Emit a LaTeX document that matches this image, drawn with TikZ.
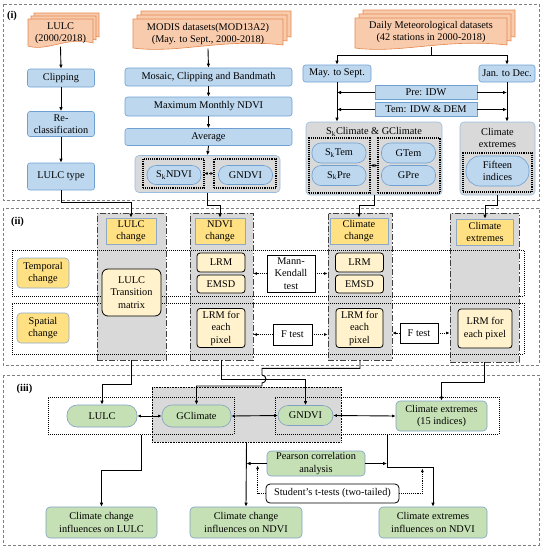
\documentclass[tikz,border=0pt]{standalone}
\usepackage{fontspec}
\setmainfont{Liberation Serif}
\usetikzlibrary{arrows.meta}

\definecolor{bluefill}{HTML}{BDD7EE}
\definecolor{blueline}{HTML}{6FA0D2}
\definecolor{docfill}{HTML}{F8CBAD}
\definecolor{docline}{HTML}{E5874F}
\definecolor{grayfill}{HTML}{D9D9D9}
\definecolor{yelfill}{HTML}{FFE083}
\definecolor{yelline}{HTML}{8EA9C8}
\definecolor{lightyel}{HTML}{FFF2CC}
\definecolor{grnfill}{HTML}{C5E0B4}
\definecolor{grnline}{HTML}{7FA0C4}
\definecolor{secline}{HTML}{7F7F7F}

\tikzset{
  every node/.style={font=\fontsize{10.3}{12.5}\selectfont, align=center, inner sep=1pt},
  sz/.style 2 args={minimum width=#1pt, minimum height=#2pt},
  section/.style={draw=secline, dash pattern=on 3pt off 2pt, line width=0.6pt},
  seclabel/.style={font=\fontsize{10.5}{12}\selectfont\bfseries},
  docpage/.style={fill=docfill, draw=docline, line width=0.6pt},
  doctext/.style={draw=none},
  bluebox/.style={draw=blueline, fill=bluefill, rounded corners=2.5pt, line width=0.6pt},
  flatbox/.style={draw=blueline, fill=bluefill, line width=0.6pt},
  bluepill/.style={draw=blueline, fill=bluefill, rounded corners=9pt, line width=0.6pt},
  grpbox/.style={draw=blueline!70, fill=grayfill, rounded corners=4pt, line width=0.6pt},
  dotbox/.style={draw=black, densely dotted, line width=1.1pt},
  colbox/.style={draw=black!75, fill=grayfill, line width=0.8pt,
                 dash pattern=on 6pt off 2pt on 1.5pt off 2pt},
  rowbox/.style={draw=black, densely dotted, line width=1pt},
  headbox/.style={draw=yelline, fill=yelfill, line width=0.6pt},
  catbox/.style={draw=yelline, fill=yelfill, rounded corners=4pt, line width=0.6pt},
  methbox/.style={draw=black, fill=lightyel, rounded corners=3pt, line width=0.8pt},
  testbox/.style={draw=black, fill=white, line width=0.8pt},
  grnbox/.style={draw=grnline, fill=grnfill, rounded corners=4pt, line width=0.6pt},
  grnpill/.style={draw=grnline, fill=grnfill, rounded corners=10pt, line width=0.6pt},
  arr/.style={-{Latex[length=4pt,width=3.5pt]}, line width=0.9pt},
  dblarr/.style={{Latex[length=3.5pt,width=3pt]}-{Latex[length=3.5pt,width=3pt]}, line width=0.9pt},
  dotarr/.style={-{Latex[length=3.5pt,width=3pt]}, densely dotted, line width=0.9pt},
  dotdbl/.style={{Latex[length=3pt,width=3pt]}-{Latex[length=3pt,width=3pt]}, densely dotted, line width=0.9pt}
}

% stacked data pages: x0, y0 (top left), x1, y1 (bottom right)
\newcommand{\docpage}[4]{%
  \filldraw[docpage] ({#1},{#2}) -- ({#3},{#2}) -- ({#3},{(#4)-3})
    .. controls ({(#1)+0.6*((#3)-(#1))},{(#4)-10}) and ({(#1)+0.3*((#3)-(#1))},{(#4)+6}) .. ({#1},{#4}) -- cycle;}
\newcommand{\docstack}[5]{%
  \docpage{(#1)+2*(#5)}{(#2)-2*(#5)}{(#3)+2*(#5)}{(#4)-2*(#5)}
  \docpage{(#1)+(#5)}{(#2)-(#5)}{(#3)+(#5)}{(#4)-(#5)}
  \docpage{#1}{#2}{#3}{#4}}

\begin{document}
\begin{tikzpicture}[x=1pt,y=-1pt]
\useasboundingbox (0,0) rectangle (544,550);

% Sections
\draw[section] (3,4) rectangle (539,200);
\draw[section] (3,208) rectangle (539,365);
\draw[section] (3,375) rectangle (539,545);
\node[seclabel] (lab1) at (12,16) {(i)};
\node[seclabel] (lab2) at (17.5,222) {(ii)};
\node[seclabel] (lab3) at (24.5,389) {(iii)};

% (i) Data
\docstack{28}{19}{93}{46}{3}
\node[doctext, sz={65}{27}] (lulcdoc) at (60.5,33) {LULC\\(2000/2018)};
\docstack{133}{19}{283}{48}{4}
\node[doctext, sz={150}{29}] (modis) at (208,34) {MODIS datasets(MOD13A2)\\(May. to Sept., 2000-2018)};
\docstack{355}{18}{507}{48}{4}
\node[doctext, sz={152}{30}] (met) at (431,32) {Daily Meteorological datasets\\(42 stations in 2000-2018)};

\node[bluebox, sz={67}{18}] (clip) at (61,78) {Clipping};
\node[bluebox, sz={67}{25}] (reclass) at (61,124) {Re-\\classification};
\node[bluebox, sz={67}{27}] (lulctype) at (61,176.5) {LULC type};

\node[bluebox, sz={167}{18}] (mosaic) at (208.5,77) {Mosaic, Clipping and Bandmath};
\node[bluebox, sz={167}{19}] (maxndvi) at (208.5,106.5) {Maximum Monthly NDVI};
\node[bluebox, sz={167}{17}] (avg) at (208.5,137) {Average};
\node[grpbox, sz={145}{37}] (ndvigrp) at (207.5,174) {};
\node[dotbox, sz={61}{29}] (skndbox) at (173.5,173.5) {};
\node[dotbox, sz={62}{29}] (gndbox) at (245,173.5) {};
\node[bluepill, sz={54}{19}] (sknd) at (174,175) {S\textsubscript{k}NDVI};
\node[bluepill, sz={54}{19}] (gnd) at (245.5,175) {GNDVI};

\node[bluebox, sz={68}{17}] (may) at (337,73.5) {May. to Sept.};
\node[bluebox, sz={56}{17}] (jan) at (507,73.5) {Jan. to Dec.};
\node[flatbox, sz={102}{14}] (pre) at (426,92.5) {Pre: IDW};
\node[flatbox, sz={102}{14}] (tem) at (426,109.5) {Tem: IDW \& DEM};

\node[grpbox, sz={136}{73}] (climgrp) at (374,158.5) {};
\node (climtitle) at (374,132) {S\textsubscript{k}Climate \& GClimate};
\node[dotbox, sz={61}{55}] (climlbox) at (339.5,165.5) {};
\node[dotbox, sz={62}{55}] (climrbox) at (409,165.5) {};
\node[bluepill, sz={54}{20}] (sktem) at (339,153) {S\textsubscript{k}Tem};
\node[bluepill, sz={54}{20}] (skpre) at (339,175.5) {S\textsubscript{k}Pre};
\node[bluepill, sz={54}{20}] (gtem) at (408.5,153) {GTem};
\node[bluepill, sz={54}{20}] (gpre) at (408.5,175.5) {GPre};

\node[grpbox, sz={75}{73}] (extgrp) at (497.5,158.5) {};
\node (exttitle) at (497.5,138) {Climate\\extremes};
\node[dotbox, sz={69}{39}] (extbox) at (497.5,172.5) {};
\node[bluepill, sz={63}{30}, rounded corners=14pt] (fifteen) at (497.5,171) {Fifteen\\indices};

% (i) connections
\draw[arr] (lulcdoc.south) -- (clip.north);
\draw[arr] (clip.south) -- (reclass.north);
\draw[arr] (reclass.south) -- (lulctype.north);
\draw[arr] (modis.south) -- (mosaic.north);
\draw[arr] (mosaic.south) -- (maxndvi.north);
\draw[arr] (maxndvi.south) -- (avg.north);
\draw[arr] (avg.south) -- (ndvigrp.north);
\draw[dotdbl] (skndbox.east) -- (gndbox.west);
\draw[dotdbl] (climlbox.east) -- (climrbox.west);
\draw[arr] (met.south) -- ++(0,8) -| (may.north);
\draw[arr] (met.south) -- ++(0,8) -| (jan.north);
\draw[arr] (may.south) -- (may.south |- climgrp.north);
\draw[arr] (jan.south) -- (jan.south |- extgrp.north);
\foreach \b in {pre,tem}{
  \draw[arr] (\b.west) -- (\b.west -| may.south);
  \draw[arr] (\b.east) -- (\b.east -| jan.south);
}

% (ii) Change analysis
\node[colbox, sz={69}{147}] (lulccol) at (131.5,286.5) {};
\node[colbox, sz={63}{147}] (ndvicol) at (221.5,286.5) {};
\node[colbox, sz={64}{147}] (climcol) at (360,286.5) {};
\node[colbox, sz={69}{149}] (extcol) at (484.5,287.5) {};
\node[rowbox, sz={512}{46}] (temprow) at (268,273) {};
\node[rowbox, sz={512}{51}] (spatrow) at (268,328.5) {};

\node[headbox, sz={50}{26}] (lulcchg) at (131,231) {LULC\\change};
\node[headbox, sz={50}{26}] (ndvichg) at (220,231) {NDVI\\change};
\node[headbox, sz={58}{26}] (climchg) at (359,231) {Climate\\change};
\node[headbox, sz={57}{26}] (extchg) at (485,232) {Climate\\extremes};

\node[catbox, sz={52}{30}] (tempchg) at (43,273) {Temporal\\change};
\node[catbox, sz={52}{30}] (spatchg) at (43,328) {Spatial\\change};

\node[methbox, sz={59}{47}, rounded corners=6pt] (transmat) at (131.5,292.5) {LULC\\Transition\\matrix};
\node[methbox, sz={48}{19}] (lrma) at (221,262.5) {LRM};
\node[methbox, sz={48}{18}] (emsda) at (221,284) {EMSD};
\node[methbox, sz={48}{39}] (pixa) at (221,328) {LRM for\\each\\pixel};
\node[methbox, sz={48}{19}] (lrmb) at (359.5,262.5) {LRM};
\node[methbox, sz={48}{18}] (emsdb) at (359.5,284) {EMSD};
\node[methbox, sz={47}{39}] (pixb) at (359.5,328) {LRM for\\each\\pixel};
\node[methbox, sz={54}{39}] (pixc) at (485,328.5) {LRM for\\each pixel};

\node[testbox, sz={48}{37}] (mk) at (291,273.5) {Mann-\\Kendall\\test};
\node[testbox, sz={39}{21}] (fta) at (292.5,334.5) {F test};
\node[testbox, sz={38}{20}] (ftb) at (419,333) {F test};

% (ii) connections
\draw[arr] (lulctype.south) -- ++(0,12) -| (lulcchg.north);
\draw[arr] (ndvigrp.south) -- ++(0,13) -| (ndvichg.north);
\draw[arr] (climgrp.south) -- ++(0,10) -| (climchg.north);
\draw[arr] (extgrp.south) -- ++(0,10) -| (extchg.north);
\draw[dotarr] (mk.west) -- (mk.west -| ndvicol.east);
\draw[dotarr] (mk.east) -- (mk.east -| climcol.west);
\draw[dotarr] (fta.west) -- (fta.west -| ndvicol.east);
\draw[dotarr] (fta.east) -- (fta.east -| climcol.west);
\draw[dotarr] (ftb.west) -- (ftb.west -| climcol.east);
\draw[dotarr] (ftb.east) -- (ftb.east -| extcol.west);

% (iii) Influences
\node[grpbox, draw=black, densely dotted, rounded corners=0pt, line width=1pt, sz={189}{55}] (graygrp) at (246.5,414.5) {};
\node[rowbox, sz={186}{37}] (leftgrp) at (141,415.5) {};
\node[rowbox, sz={224}{37}] (rightgrp) at (387,415.5) {};
\node[grnpill, sz={70}{22}] (lulcp) at (102,416) {LULC};
\node[grnpill, sz={69}{22}] (gclim) at (196.5,416) {GClimate};
\node[grnpill, sz={55}{20}] (gndvi) at (305.5,415.5) {GNDVI};
\node[grnbox, sz={91}{30}] (cext) at (441.5,416) {Climate extremes\\(15 indices)};

\node[grnbox, sz={98}{25}] (pearson) at (316,463.5) {Pearson correlation\\analysis};
\node[testbox, rounded corners=4pt, sz={133}{19}] (student) at (332.5,493.5) {Student's t-tests (two-tailed)};

\node[grnbox, sz={111}{31}] (outlulc) at (101.5,522.5) {Climate change\\influences on LULC};
\node[grnbox, sz={112}{31}] (outndvi) at (246,522.5) {Climate change\\influences on NDVI};
\node[grnbox, sz={108}{31}] (outext) at (433,522.5) {Climate extremes\\influences on NDVI};

% (iii) connections
\coordinate (hop) at (262,379);
\draw[arr] (lulccol.south) -- ++(0,24) -| (lulcp.north);
\draw[arr] (ndvicol.south) -- ++(0,19) -| (gndvi.north);
\draw[arr] (climcol.south) -- ++(0,8) -| ([yshift=4pt]hop)
  arc[start angle=90, end angle=-90, radius=4pt] -- ++(0,3) -| (gclim.north);
\draw[arr] (extcol.south) -- ++(0,20) -| (cext.north);
\draw[dblarr] (lulcp.east) -- (gclim.west);
\draw[dblarr] (gclim.east) -- (gndvi.west);
\draw[dblarr] (gndvi.east) -- (cext.west);

\draw[arr] (leftgrp.south) -- ++(0,36) -| (outlulc.north);
\draw[arr] (graygrp.south) -- (outndvi.north);
\draw[arr] (rightgrp.south) -- ++(0,33) -| (outext.north);
\draw[arr] (pearson.west) -- (pearson.west -| graygrp.south);
\draw[arr] (pearson.east) -- (pearson.east -| rightgrp.south);
\draw[dotarr] (student.west) -- ++(-8,0) -- ++(0,-28);
\draw[dotarr] (student.east) -- ++(23,0) -- ++(0,-25);

\end{tikzpicture}
\end{document}
